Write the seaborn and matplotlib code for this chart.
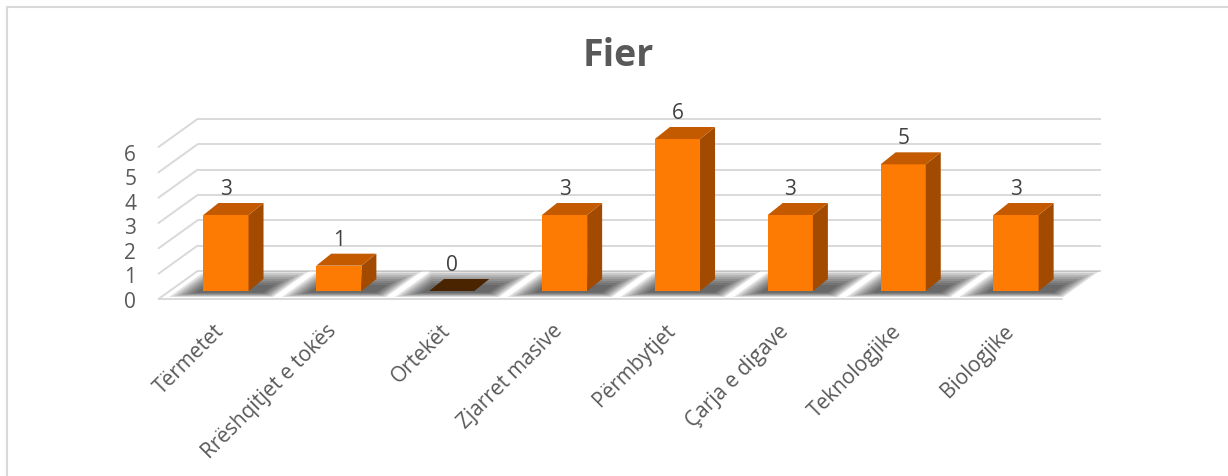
import matplotlib
matplotlib.use("Agg")
import matplotlib.pyplot as plt
import matplotlib.transforms as mtransforms
from matplotlib.lines import Line2D
from matplotlib.patches import Polygon
import pandas as pd
import seaborn as sns

# data
categories = [
    "Tërmetet",
    "Rrëshqitjet e tokës",
    "Ortekët",
    "Zjarret masive",
    "Përmbytjet",
    "Çarja e digave",
    "Teknologjike",
    "Biologjike",
]
counts = [3, 1, 0, 3, 6, 3, 5, 3]
y_ticks = [0, 1, 2, 3, 4, 5, 6]
title = "Fier"

FRONT = "#FD7B02"
TOP = "#C45A00"
SIDE = "#A24B00"
ZERO_TOP = "#4A2400"
GRID = "#D9D9D9"
TEXT = "#595959"

sns.set_theme(style="white")
plt.rcParams["font.family"] = ["Open Sans", "DejaVu Sans"]

W, H = 1228, 477
fig = plt.figure(figsize=(W / 100, H / 100), dpi=100)
ax = fig.add_axes([169.5 / W, 1 - 292 / H, 903 / W, 152 / H])
ax.set_facecolor("none")

df = pd.DataFrame({"category": categories, "count": counts})
sns.barplot(data=df, x="category", y="count", color=FRONT, saturation=1,
            width=0.4, linewidth=0, ax=ax, zorder=5)
ax.set_xlim(-0.5, len(categories) - 0.5)
ax.set_ylim(y_ticks[0], y_ticks[-1])
bars = list(ax.patches)

# pixel -> data units, for the fake 3d depth
ux = (ax.get_xlim()[1] - ax.get_xlim()[0]) / ax.bbox.width
uy = (ax.get_ylim()[1] - ax.get_ylim()[0]) / ax.bbox.height

# walls / floor grid
xl, xr = ax.get_xlim()
bx, by = 28 * ux, 20 * uy
fx, fy = -11 * ux, -8 * uy
for v in y_ticks:
    ax.plot([xl + bx, xr + bx], [v + by, v + by], color=GRID, lw=1.4,
            zorder=1, clip_on=False, solid_capstyle="butt")
    ax.plot([xl + fx, xl + bx], [v + fy, v + by], color=GRID, lw=1.4,
            zorder=1, clip_on=False)
ax.plot([xl + fx, xr + fx], [fy, fy], color=GRID, lw=1.4, zorder=6, clip_on=False)

# soft shadows on the floor, stacked translucent layers
slope = 39 / 28
for p in bars:
    x0, w = p.get_x(), p.get_width()
    for k in range(1, 9):
        s = k / 8
        b = -1 - 5 * s
        t = 4 + 16 * s
        ml = (2 + 24 * s) * ux
        mr = (15 + 18 * s) * ux
        pts = [
            (x0 - ml + slope * b * ux, b * uy),
            (x0 + w + mr + slope * b * ux, b * uy),
            (x0 + w + mr + slope * t * ux, t * uy),
            (x0 - ml + slope * t * ux, t * uy),
        ]
        ax.add_patch(Polygon(pts, closed=True, facecolor="#1a1a1a", edgecolor="none",
                             alpha=0.12, zorder=3, clip_on=False))

# top and side faces
dx, dy = 15 * ux, 12 * uy
for p in bars:
    x0, w, h = p.get_x(), p.get_width(), p.get_height()
    ax.add_patch(Polygon([(x0 + w, 0), (x0 + w + dx, dy), (x0 + w + dx, h + dy), (x0 + w, h)],
                         closed=True, facecolor=SIDE, edgecolor="none", zorder=5, clip_on=False))
    ax.add_patch(Polygon([(x0, h), (x0 + w, h), (x0 + w + dx, h + dy), (x0 + dx, h + dy)],
                         closed=True, facecolor=TOP if h > 0 else ZERO_TOP,
                         edgecolor="none", zorder=5, clip_on=False))
    ax.annotate(f"{h:g}", (x0 + w / 2, h), xytext=(0, 19), textcoords="offset points",
                ha="center", va="center", fontsize=15, color="#404040", zorder=7)

for side in ax.spines.values():
    side.set_visible(False)
ax.set_xlabel("")
ax.set_ylabel("")
ax.set_yticks([])

# category labels
ax.tick_params(axis="x", length=0, pad=26, labelsize=15, labelcolor=TEXT)
ax.set_xticks(range(len(categories)))
ax.set_xticklabels(categories, rotation=45, ha="right", va="center", rotation_mode="anchor")
for lbl in ax.get_xticklabels():
    lbl.set_transform(lbl.get_transform() + mtransforms.ScaledTranslation(-0.05, 0, fig.dpi_scale_trans))

# value axis sits on the front plane of the box
ax_y = fig.add_axes([169.5 / W, 1 - 300 / H, 903 / W, 147 / H])
ax_y.set_facecolor("none")
ax_y.set_ylim(y_ticks[0], y_ticks[-1])
ax_y.set_yticks(y_ticks)
ax_y.set_xticks([])
for side in ax_y.spines.values():
    side.set_visible(False)
ax_y.tick_params(axis="y", length=0, pad=24, labelsize=15, labelcolor=TEXT)

fig.text(618 / W, 1 - 56 / H, title, ha="center", va="center", fontsize=27,
         fontweight="bold", color=TEXT)

# chart frame
fig.add_artist(Line2D([7 / W, 7 / W], [0, 1 - 8 / H], color=GRID, lw=1.5))
fig.add_artist(Line2D([7 / W, 1], [1 - 8 / H, 1 - 8 / H], color=GRID, lw=1.5))

fig.savefig("out.png", dpi=100)
